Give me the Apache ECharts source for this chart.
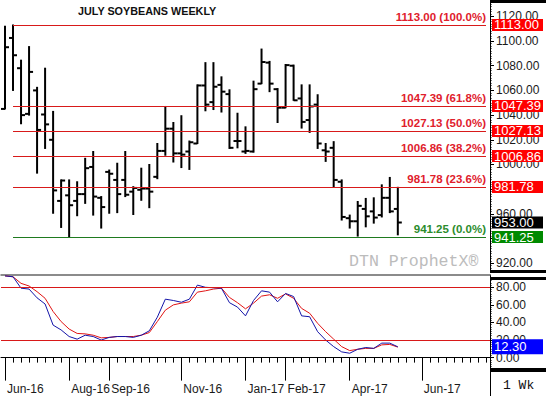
<!DOCTYPE html>
<html><head><meta charset="utf-8">
<script src="https://cdn.jsdelivr.net/npm/echarts@6/dist/echarts.min.js"></script>
<style>html,body{margin:0;padding:0;background:#fff}#c{width:546px;height:396px}</style>
</head><body><div id="c"></div>
<script>
// Weekly categories (Monday of each week); trailing weeks are empty future slots
const weeks = [
 '2016-06-06','2016-06-13','2016-06-20','2016-06-27','2016-07-04','2016-07-11','2016-07-18','2016-07-25',
 '2016-08-01','2016-08-08','2016-08-15','2016-08-22','2016-08-29','2016-09-05','2016-09-12','2016-09-19',
 '2016-09-26','2016-10-03','2016-10-10','2016-10-17','2016-10-24','2016-10-31','2016-11-07','2016-11-14',
 '2016-11-21','2016-11-28','2016-12-05','2016-12-12','2016-12-19','2016-12-26','2017-01-02','2017-01-09',
 '2017-01-16','2017-01-23','2017-01-30','2017-02-06','2017-02-13','2017-02-20','2017-02-27','2017-03-06',
 '2017-03-13','2017-03-20','2017-03-27','2017-04-03','2017-04-10','2017-04-17','2017-04-24','2017-05-01',
 '2017-05-08','2017-05-15','2017-05-22','2017-05-29','2017-06-05','2017-06-12','2017-06-19','2017-06-26',
 '2017-07-03','2017-07-10','2017-07-17','2017-07-24','2017-07-31'
];
const opens  = [1045,1102.5,1078,1041,1060,1040.5,1020,970.5,975,970.5,976,998,973,994,987.5,987.5,978,979.5,980.5,990,
 1011,1029,1009,1010.5,1017,1064,1050.5,1064.5,1057,1019,1010.5,1010.5,1065.5,1082.5,1061,1046,1080,1053.5,1036,1048.5,
 1011.5,1013.5,986,956.5,954,964,962,959,973,964];
const highs  = [1112,1113,1084.5,1095.5,1062.5,1078,1043,987.5,987.5,986,1005,1010.5,974,995.5,1001,1010.5,982,997,1000,1017,
 1047,1034,1039.5,1019,1064.5,1082.5,1082.5,1071,1060.5,1041.5,1030.5,1067.5,1093.5,1083.5,1061.5,1081,1080.5,1064.5,1064.5,1056.5,
 1017,1018.5,987.5,959,970,972.5,973,983.5,989.5,981.5];
const lows   = [1045,1060,1033,1040,993,1013,960.5,949,941.25,958.5,968.5,959,948.5,960.5,961,974,959.5,971,965,988.5,
 1007.5,1002,997.5,996,1017,1043.5,1044.5,1042.5,1013,1013.5,1009,1010,1065.5,1059,1034,1046,1052,1029.5,1026,1013,
 1002.5,982,955,948.5,942,949.5,952.5,957.5,961,943];
const closes = [1095,1088.5,1040,1075,1028,1032.5,979,987,967,976,997,974,965.5,992.5,976,975.5,981,980.5,978,1011,
 1029,1009,1008,1018,1064,1048.5,1063,1059,1013.5,1019,1011,1061,1083,1065.5,1046,1080.5,1052,1034.5,1047,1017,
 1010.5,987.5,957.5,954,966.5,958,957,973,962,953];
const stochK = [93,92,79,78,68,61,37,31.5,24,21,25.5,24,20,23,24,24,23,25.5,30.5,46,
 66.5,65,63,66.5,82.5,80,79.5,79,62.5,57.5,47.5,65,76,74.5,63.5,73,69.5,47.5,46.5,29.5,
 20,12.5,6.5,5,9.5,11.5,10.5,16.5,16.5,12.3];
const stochD = [93,92,84.5,81.5,75,67.5,52.5,41,32.5,27.5,27,25.5,22.5,23,24,24,24,25.5,28.5,41,
 54,60,62,63.5,74.5,76,78,79,68.5,62.5,55.5,62,70,71.5,67.5,72.5,67.5,56,50.5,39,
 29.5,21,12.5,8,9.5,10.5,10.5,14.5,15,12];
const fibValues = [1113.00,1047.39,1027.13,1006.86,981.78,941.25];
const fibPcts   = ['100.0%','61.8%','50.0%','38.2%','23.6%','0.0%'];
const priceTicks = [920,940,960,980,1000,1020,1040,1060,1080,1100,1120];
const priceTickLabels = [920,960,1000,1020,1040,1060,1080,1100,1120];
const stochTicks = [0,20,40,60,80];
const stochBands = [80,20];
const monthLabels = ['Jun-16','Aug-16','Sep-16','Nov-16','Jan-17','Feb-17','Apr-17','Jun-17'];

const MON = ['Jan','Feb','Mar','Apr','May','Jun','Jul','Aug','Sep','Oct','Nov','Dec'];
function fmtWeek(s){ return MON[+s.slice(5,7)-1] + '-' + s.slice(2,4); }
const majorSet = new Set(monthLabels.map(l => weeks.findIndex(w => fmtWeek(w) === l)));

const priceMinor = []; for (let v = 914; v <= 1132; v += 2) priceMinor.push(v);
const stochMinor = []; for (let v = -15; v <= 92; v += 2.5) stochMinor.push(v);

const FONT = 'Liberation Sans';
const RED = '#d81a1a', REDTXT = '#e0202c', GREEN = '#1f7a1f', GREENTXT = '#2c8c2c';
const CLEAR = 'rgba(255,255,255,0)';

const ohlc = opens.map((o,i) => [i, o, highs[i], lows[i], closes[i]]);

const fibLines = fibValues.map((v,k) => {
  const last = k === fibValues.length - 1;
  return [{coord:[weeks[1], v], lineStyle:{color: last ? GREEN : RED, width:1, type:'solid'},
    label:{show:true, position:'insideEndTop', distance:[0,2], formatter: v.toFixed(2)+' ('+fibPcts[k]+')',
      color: last ? GREENTXT : REDTXT, fontWeight:'bold', fontSize:11.5, fontFamily:FONT}},
    {coord:[weeks[weeks.length-1], v]}];
});
function boxItem(v, bg){
  return {yAxis:v, lineStyle:{color:CLEAR, width:1, opacity:1},
    label:{show:true, position:'end', distance:2, formatter: v.toFixed(2), backgroundColor:bg, color:'#fff',
      fontSize:13, fontFamily:FONT, lineHeight:12, width:47, padding:[0,2,0,2], align:'left'}};
}
const boxes = fibValues.map((v,k) => boxItem(v, k === fibValues.length-1 ? '#008a00' : '#ff0000'));
boxes.push(boxItem(closes[closes.length-1], '#000'));

const chart = echarts.init(document.getElementById('c'), null, {renderer:'svg'});
chart.setOption({
  animation:false,
  backgroundColor:'#fff',
  textStyle:{fontFamily:FONT},
  grid:[
    {left:1, top:0, width:489, height:272, outerBoundsMode:'none'},
    {left:1, top:275, width:489, height:98, outerBoundsMode:'none'}
  ],
  xAxis:[
    {type:'category', gridIndex:0, data:weeks, show:false},
    {type:'category', gridIndex:1, data:weeks, position:'bottom',
      axisLine:{show:true, lineStyle:{color:'#000', width:1}},
      axisTick:{show:true, interval:0, alignWithLabel:true, length:5, lineStyle:{color:'#000'}},
      axisLabel:{show:true, interval:(i)=>majorSet.has(i), formatter:(v)=>fmtWeek(v), align:'left',
        margin:10, color:'#1a1a1a', fontSize:12, fontFamily:FONT, padding:[0,0,0,2]}},
    {type:'category', gridIndex:1, data:weeks, position:'bottom',
      axisLine:{show:false},
      axisTick:{show:true, interval:(i)=>majorSet.has(i), alignWithLabel:true, length:23, lineStyle:{color:'#000'}},
      axisLabel:{show:false}},
    {type:'category', gridIndex:1, data:weeks, position:'top',
      axisLine:{show:true, lineStyle:{color:'#666', width:1.5}}, axisTick:{show:false}, axisLabel:{show:false}}
  ],
  yAxis:[
    {type:'value', gridIndex:0, position:'right', min:912.9, max:1133.25, splitLine:{show:false},
      axisLine:{show:true, lineStyle:{color:'#000'}},
      axisTick:{show:true, customValues:priceTicks, length:4, lineStyle:{color:'#000'}},
      axisLabel:{show:true, customValues:priceTickLabels, formatter:(v)=>v.toFixed(2), margin:6, color:'#1a1a1a', fontSize:12, fontFamily:FONT}},
    {type:'value', gridIndex:0, position:'right', min:912.9, max:1133.25, splitLine:{show:false},
      axisLine:{show:false}, axisLabel:{show:false},
      axisTick:{show:true, customValues:priceMinor, length:1.5, lineStyle:{color:'#000'}}},
    {type:'value', gridIndex:1, position:'right', min:-17.5, max:94, splitLine:{show:false},
      axisLine:{show:true, lineStyle:{color:'#000'}},
      axisTick:{show:true, customValues:stochTicks, length:4, lineStyle:{color:'#000'}},
      axisLabel:{show:true, customValues:stochTicks, formatter:(v)=>v.toFixed(2), margin:6, color:'#1a1a1a', fontSize:12, fontFamily:FONT}},
    {type:'value', gridIndex:1, position:'right', min:-17.5, max:94, splitLine:{show:false},
      axisLine:{show:false}, axisLabel:{show:false},
      axisTick:{show:true, customValues:stochMinor, length:1.5, lineStyle:{color:'#000'}}}
  ],
  series:[
    {type:'custom', name:'July Soybeans', xAxisIndex:0, yAxisIndex:0, data:ohlc,
      encode:{x:0, y:[1,2,3,4]},
      renderItem:(params, api) => {
        const i = api.value(0);
        const pO = api.coord([i, api.value(1)]);
        const pH = api.coord([i, api.value(2)]);
        const pL = api.coord([i, api.value(3)]);
        const pC = api.coord([i, api.value(4)]);
        const x = pH[0];
        const st = {stroke:'#000', lineWidth:2};
        return {type:'group', children:[
          {type:'line', shape:{x1:x, y1:pH[1]-0.5, x2:x, y2:pL[1]+0.5}, style:st},
          {type:'line', shape:{x1:x-4, y1:pO[1], x2:x, y2:pO[1]}, style:st},
          {type:'line', shape:{x1:x, y1:pC[1], x2:x+4, y2:pC[1]}, style:st}
        ]};
      },
      markLine:{silent:true, symbol:'none', animation:false, z:10,
        data: fibLines.concat(boxes)}
    },
    {type:'line', name:'%K', xAxisIndex:1, yAxisIndex:2, data:stochK, symbol:'none', z:3,
      lineStyle:{color:'#1414a8', width:1}, itemStyle:{color:'#1414a8'},
      markLine:{silent:true, symbol:'none', animation:false,
        data: stochBands.map(v => ({yAxis:v, lineStyle:{color:'#d81818', width:1, type:'solid'}, label:{show:false}}))
          .concat([{yAxis:0, lineStyle:{color:'#000', width:1, type:[3,2]}, label:{show:false}},
            {yAxis:stochK[stochK.length-1], lineStyle:{color:CLEAR, width:1, opacity:1},
              label:{show:true, position:'end', distance:2, formatter: stochK[stochK.length-1].toFixed(2),
                backgroundColor:'#0000ff', color:'#fff', fontSize:13, fontFamily:FONT, lineHeight:13, width:47, padding:[1,2,1,2], align:'left'}}])}
    },
    {type:'line', name:'%D', xAxisIndex:1, yAxisIndex:2, data:stochD, symbol:'none', z:2,
      lineStyle:{color:'#e01414', width:1}, itemStyle:{color:'#e01414'}}
  ],
  graphic:[
    {type:'text', left:78, top:5, style:{text:'JULY SOYBEANS WEEKLY', font:'bold 10.8px "Liberation Sans"', fill:'#111'}},
    {type:'text', left:349, top:253, style:{text:'DTN ProphetX®', font:'16.6px "Liberation Mono"', fill:'#bcbcbc'}},
    {type:'text', left:503, top:379, style:{text:'1 Wk', font:'13px "Liberation Mono"', fill:'#111'}},
    {type:'rect', shape:{x:490, y:0, width:56, height:3}, style:{fill:'#000'}},
    {type:'rect', shape:{x:490, y:270, width:56, height:3}, style:{fill:'#000'}},
    {type:'rect', shape:{x:490, y:277, width:56, height:3}, style:{fill:'#000'}},
    {type:'rect', shape:{x:490, y:368, width:56, height:4}, style:{fill:'#000'}},
    {type:'line', shape:{x1:490.5, y1:373, x2:490.5, y2:396}, style:{stroke:'#000', lineWidth:1}}
  ]
});
</script></body></html>
